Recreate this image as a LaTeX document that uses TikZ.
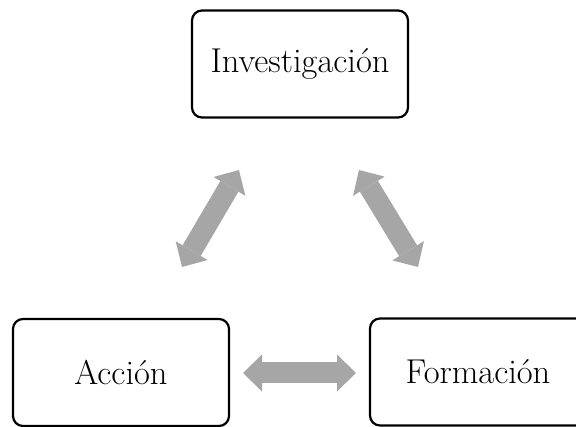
\documentclass[tikz,border=0pt]{standalone}
\usetikzlibrary{arrows.meta}
\definecolor{arrowgray}{HTML}{A6A6A6}
\begin{document}
\begin{tikzpicture}[x=1pt,y=-1pt,
  box/.style={draw=black, line width=2.2pt, rounded corners=10pt, minimum width=216pt, minimum height=107pt, inner sep=0pt, font=\fontsize{34.5}{40}\selectfont},
  bigarrow/.style={draw=arrowgray, line width=21pt, {Triangle[width=37pt,length=19pt,line width=0pt]}-{Triangle[width=37pt,length=19pt,line width=0pt]}}]
\useasboundingbox (0,0) rectangle (576,427);
\node[box] (inv) at (300,64) {Investigación};
\node[box] (acc) at (121,372.5) {Acción};
\node[box] (for) at (478,372) {Formación};
\coordinate (l1) at (239,170);
\coordinate (l2) at (182,267);
\coordinate (r1) at (359,170);
\coordinate (r2) at (418,267);
\coordinate (h1) at (243,373);
\coordinate (h2) at (356,373);
\draw[bigarrow] (l1) -- (l2);
\draw[bigarrow] (r1) -- (r2);
\draw[bigarrow] (h1) -- (h2);
\end{tikzpicture}
\end{document}
